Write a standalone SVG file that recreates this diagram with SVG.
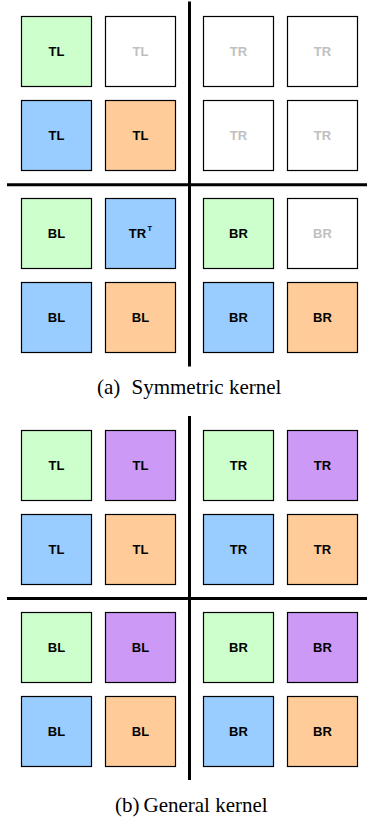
<svg xmlns="http://www.w3.org/2000/svg" width="367" height="821" viewBox="0 0 367 821">
<style>
.box{stroke:#000;stroke-width:1.2}
.g{fill:#ccffcc}.b{fill:#99ccff}.o{fill:#ffcc99}.p{fill:#cc99f7}.w{fill:#fff}
.lbl{font-family:"Liberation Sans",Arial,sans-serif;font-weight:bold;font-size:13px;text-anchor:middle;fill:#000}
.dim{fill:#c0c0c0}
.sup{font-family:"Liberation Sans",Arial,sans-serif;font-weight:bold;font-size:7.5px;fill:#000}
.ax{stroke:#000;stroke-width:3;fill:none}
.cap{font-family:"Liberation Serif","Times New Roman",serif;font-size:21px;fill:#000}
</style>
<g id="connectors">
<line class="ax" x1="189.5" y1="1.5" x2="189.5" y2="366.5"/>
<line class="ax" x1="7" y1="184.8" x2="367" y2="184.8"/>
<line class="ax" x1="189.5" y1="416" x2="189.5" y2="780"/>
<line class="ax" x1="7" y1="598.5" x2="367" y2="598.5"/>
</g>
<!-- Panel (a) -->
<g id="a-tl1"><rect class="box g" x="21.5" y="16.5" width="70" height="70"/><text class="lbl" x="56.5" y="56">TL</text></g>
<g id="a-tl2"><rect class="box w" x="105.5" y="16.5" width="70" height="70"/><text class="lbl dim" x="140.5" y="56">TL</text></g>
<g id="a-tr1"><rect class="box w" x="203.5" y="16.5" width="70" height="70"/><text class="lbl dim" x="238.5" y="56">TR</text></g>
<g id="a-tr2"><rect class="box w" x="287.5" y="16.5" width="70" height="70"/><text class="lbl dim" x="322.5" y="56">TR</text></g>
<g id="a-tl3"><rect class="box b" x="21.5" y="100.5" width="70" height="70"/><text class="lbl" x="56.5" y="140">TL</text></g>
<g id="a-tl4"><rect class="box o" x="105.5" y="100.5" width="70" height="70"/><text class="lbl" x="140.5" y="140">TL</text></g>
<g id="a-tr3"><rect class="box w" x="203.5" y="100.5" width="70" height="70"/><text class="lbl dim" x="238.5" y="140">TR</text></g>
<g id="a-tr4"><rect class="box w" x="287.5" y="100.5" width="70" height="70"/><text class="lbl dim" x="322.5" y="140">TR</text></g>
<g id="a-bl1"><rect class="box g" x="21.5" y="198.5" width="70" height="70"/><text class="lbl" x="56.5" y="238">BL</text></g>
<g id="a-trt"><rect class="box b" x="105.5" y="198.5" width="70" height="70"/><text class="lbl" x="137.5" y="238">TR</text><text class="sup" x="147.5" y="231">T</text></g>
<g id="a-br1"><rect class="box g" x="203.5" y="198.5" width="70" height="70"/><text class="lbl" x="238.5" y="238">BR</text></g>
<g id="a-br2"><rect class="box w" x="287.5" y="198.5" width="70" height="70"/><text class="lbl dim" x="322.5" y="238">BR</text></g>
<g id="a-bl2"><rect class="box b" x="21.5" y="282.5" width="70" height="70"/><text class="lbl" x="56.5" y="322">BL</text></g>
<g id="a-bl3"><rect class="box o" x="105.5" y="282.5" width="70" height="70"/><text class="lbl" x="140.5" y="322">BL</text></g>
<g id="a-br3"><rect class="box b" x="203.5" y="282.5" width="70" height="70"/><text class="lbl" x="238.5" y="322">BR</text></g>
<g id="a-br4"><rect class="box o" x="287.5" y="282.5" width="70" height="70"/><text class="lbl" x="322.5" y="322">BR</text></g>
<g id="cap-a"><text class="cap" x="97" y="394">(a)</text><text class="cap" x="131.5" y="394">Symmetric kernel</text></g>
<!-- Panel (b) -->
<g id="b-tl1"><rect class="box g" x="21.5" y="430.5" width="70" height="70"/><text class="lbl" x="56.5" y="470">TL</text></g>
<g id="b-tl2"><rect class="box p" x="105.5" y="430.5" width="70" height="70"/><text class="lbl" x="140.5" y="470">TL</text></g>
<g id="b-tr1"><rect class="box g" x="203.5" y="430.5" width="70" height="70"/><text class="lbl" x="238.5" y="470">TR</text></g>
<g id="b-tr2"><rect class="box p" x="287.5" y="430.5" width="70" height="70"/><text class="lbl" x="322.5" y="470">TR</text></g>
<g id="b-tl3"><rect class="box b" x="21.5" y="514.5" width="70" height="70"/><text class="lbl" x="56.5" y="554">TL</text></g>
<g id="b-tl4"><rect class="box o" x="105.5" y="514.5" width="70" height="70"/><text class="lbl" x="140.5" y="554">TL</text></g>
<g id="b-tr3"><rect class="box b" x="203.5" y="514.5" width="70" height="70"/><text class="lbl" x="238.5" y="554">TR</text></g>
<g id="b-tr4"><rect class="box o" x="287.5" y="514.5" width="70" height="70"/><text class="lbl" x="322.5" y="554">TR</text></g>
<g id="b-bl1"><rect class="box g" x="21.5" y="612.5" width="70" height="70"/><text class="lbl" x="56.5" y="652">BL</text></g>
<g id="b-bl2"><rect class="box p" x="105.5" y="612.5" width="70" height="70"/><text class="lbl" x="140.5" y="652">BL</text></g>
<g id="b-br1"><rect class="box g" x="203.5" y="612.5" width="70" height="70"/><text class="lbl" x="238.5" y="652">BR</text></g>
<g id="b-br2"><rect class="box p" x="287.5" y="612.5" width="70" height="70"/><text class="lbl" x="322.5" y="652">BR</text></g>
<g id="b-bl3"><rect class="box b" x="21.5" y="696.5" width="70" height="70"/><text class="lbl" x="56.5" y="736">BL</text></g>
<g id="b-bl4"><rect class="box o" x="105.5" y="696.5" width="70" height="70"/><text class="lbl" x="140.5" y="736">BL</text></g>
<g id="b-br3"><rect class="box b" x="203.5" y="696.5" width="70" height="70"/><text class="lbl" x="238.5" y="736">BR</text></g>
<g id="b-br4"><rect class="box o" x="287.5" y="696.5" width="70" height="70"/><text class="lbl" x="322.5" y="736">BR</text></g>
<g id="cap-b"><text class="cap" x="115" y="812">(b)</text><text class="cap" x="143.5" y="812">General kernel</text></g>
</svg>
